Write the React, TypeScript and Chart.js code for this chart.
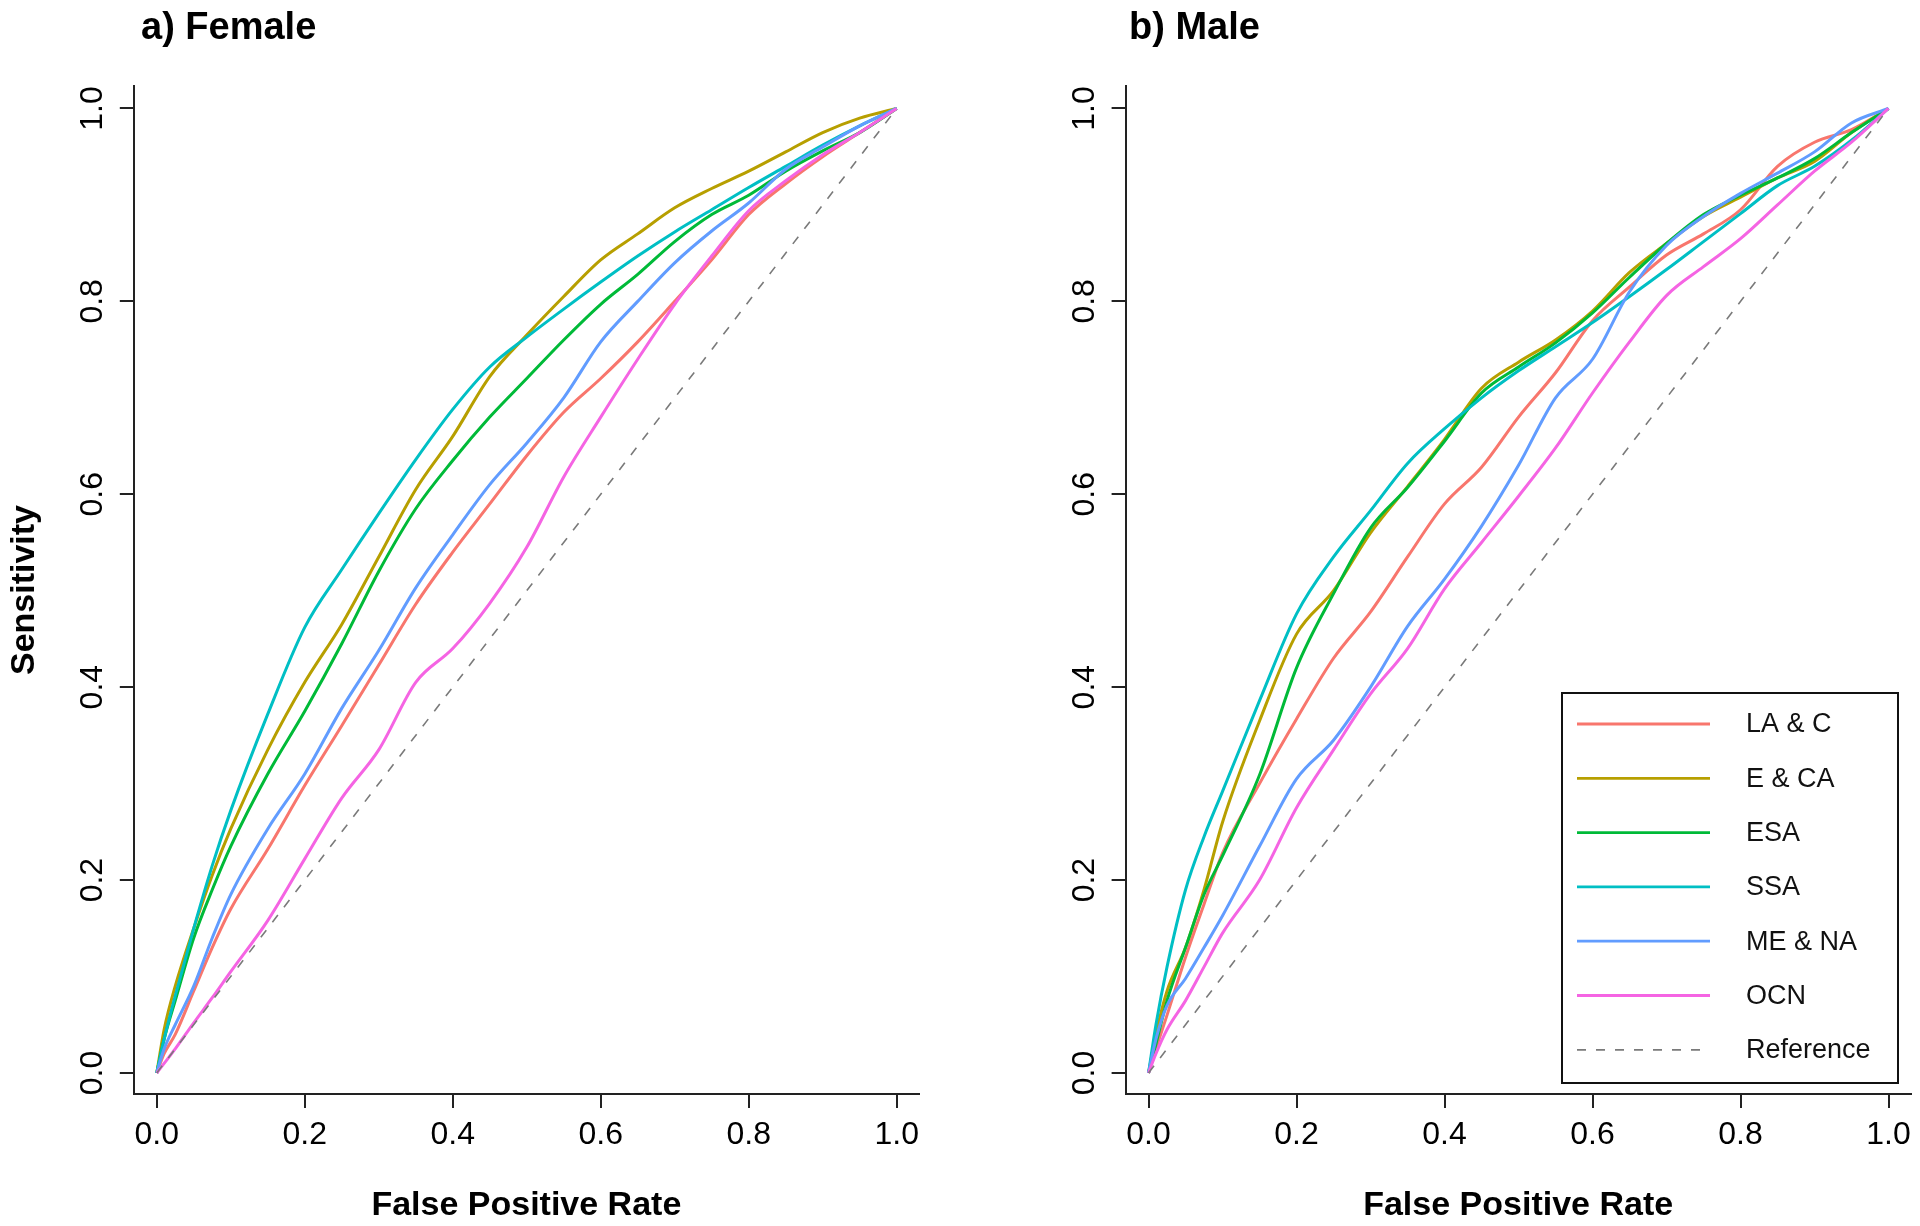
import React, { useEffect, useRef } from 'react';
import { Chart, registerables } from 'chart.js';

Chart.register(...registerables);

// ---------------- data ----------------
const FPR = [0, 0.01, 0.025, 0.05, 0.075, 0.1, 0.15, 0.2, 0.25, 0.3, 0.35, 0.4, 0.45, 0.5, 0.55, 0.6, 0.65, 0.7, 0.75, 0.8, 0.85, 0.9, 0.95, 1.0];

const SERIES_NAMES = ['LA & C', 'E & CA', 'ESA', 'SSA', 'ME & NA', 'OCN'];
const SERIES_COLORS = ['#F8766D', '#B79F00', '#00BA38', '#00BFC4', '#619CFF', '#F564E3'];
const REFERENCE_LABEL = 'Reference';
const REF_X = [0, 1];
const REF_Y = [0, 1];
const TICKS = [0, 0.2, 0.4, 0.6, 0.8, 1.0];

// a) Female
const F_LAC = [0, 0.02, 0.04, 0.085, 0.13, 0.17, 0.232, 0.298, 0.36, 0.423, 0.486, 0.54, 0.59, 0.64, 0.685, 0.72, 0.758, 0.8, 0.843, 0.89, 0.922, 0.95, 0.975, 1];
const F_ECA = [0, 0.045, 0.09, 0.15, 0.205, 0.253, 0.335, 0.405, 0.465, 0.535, 0.605, 0.66, 0.722, 0.765, 0.805, 0.843, 0.87, 0.897, 0.917, 0.935, 0.955, 0.975, 0.99, 1];
const F_ESA = [0, 0.035, 0.075, 0.14, 0.19, 0.235, 0.31, 0.375, 0.445, 0.52, 0.585, 0.635, 0.68, 0.72, 0.76, 0.797, 0.828, 0.862, 0.89, 0.91, 0.935, 0.956, 0.975, 1];
const F_SSA = [0, 0.035, 0.08, 0.15, 0.215, 0.272, 0.372, 0.462, 0.522, 0.58, 0.636, 0.688, 0.732, 0.763, 0.792, 0.82, 0.847, 0.872, 0.895, 0.918, 0.94, 0.962, 0.982, 1];
const F_MENA = [0, 0.025, 0.05, 0.09, 0.14, 0.185, 0.253, 0.31, 0.378, 0.438, 0.503, 0.558, 0.61, 0.653, 0.7, 0.758, 0.8, 0.84, 0.873, 0.902, 0.937, 0.96, 0.982, 1];
const F_OCN = [0, 0.01, 0.025, 0.052, 0.078, 0.105, 0.158, 0.222, 0.285, 0.335, 0.405, 0.44, 0.487, 0.545, 0.618, 0.68, 0.74, 0.797, 0.847, 0.894, 0.925, 0.952, 0.975, 1];

// b) Male
const M_LAC = [0, 0.025, 0.06, 0.12, 0.175, 0.228, 0.3, 0.367, 0.43, 0.478, 0.535, 0.59, 0.628, 0.68, 0.726, 0.78, 0.815, 0.848, 0.87, 0.895, 0.94, 0.965, 0.978, 1];
const M_ECA = [0, 0.04, 0.085, 0.13, 0.19, 0.26, 0.365, 0.455, 0.5, 0.56, 0.608, 0.657, 0.71, 0.737, 0.76, 0.79, 0.83, 0.86, 0.888, 0.908, 0.928, 0.945, 0.975, 1];
const M_ESA = [0, 0.03, 0.075, 0.13, 0.185, 0.225, 0.309, 0.42, 0.497, 0.565, 0.607, 0.655, 0.705, 0.732, 0.757, 0.788, 0.825, 0.86, 0.89, 0.91, 0.928, 0.948, 0.975, 1];
const M_SSA = [0, 0.05, 0.11, 0.19, 0.245, 0.292, 0.386, 0.476, 0.535, 0.583, 0.632, 0.668, 0.7, 0.728, 0.753, 0.778, 0.805, 0.833, 0.862, 0.891, 0.92, 0.94, 0.967, 1];
const M_MENA = [0, 0.035, 0.07, 0.098, 0.13, 0.163, 0.235, 0.305, 0.345, 0.4, 0.463, 0.512, 0.567, 0.63, 0.7, 0.74, 0.81, 0.858, 0.888, 0.912, 0.933, 0.955, 0.985, 1];
const M_OCN = [0, 0.02, 0.045, 0.075, 0.11, 0.145, 0.2, 0.275, 0.335, 0.393, 0.44, 0.502, 0.55, 0.598, 0.648, 0.705, 0.758, 0.806, 0.836, 0.865, 0.9, 0.935, 0.965, 1];

const X_TITLE = 'False Positive Rate';
const Y_TITLE = 'Sensitivity';

// ---------------- layout / style ----------------
const FONT = "'Liberation Sans', Arial, Helvetica, sans-serif";
const CANVAS_W = 960;
const CANVAS_H = 1226;
const PLOT_TOP = 86;
const X_AXIS_H = 132;
const X_MIN = -0.031;
const X_MAX = 1.03;
const Y_MIN = -0.0218;
const Y_MAX = 1.0233;
const AXIS_COLOR = '#222';

type PanelSpec = {
  title: string;
  values: number[][];
  canvasLeft: number;
  yAxisWidth: number;
  padRight: number;
  titleX: number;
  showYTitle: boolean;
  showLegend: boolean;
};

const PANELS: PanelSpec[] = [
  {
    title: 'a) Female',
    values: [F_LAC, F_ECA, F_ESA, F_SSA, F_MENA, F_OCN],
    canvasLeft: 0,
    yAxisWidth: 133.8,
    padRight: 41.1,
    titleX: 141,
    showYTitle: true,
    showLegend: false,
  },
  {
    title: 'b) Male',
    values: [M_LAC, M_ECA, M_ESA, M_SSA, M_MENA, M_OCN],
    canvasLeft: 960,
    yAxisWidth: 165.6,
    padRight: 9.3,
    titleX: 169,
    showYTitle: false,
    showLegend: true,
  },
];

const panelTitlePlugin = {
  id: 'panelTitle',
  afterDraw(chart: any, _args: any, opts: any) {
    if (!opts || !opts.text) return;
    const ctx = chart.ctx;
    ctx.save();
    ctx.font = `bold ${opts.size}px ${FONT}`;
    ctx.fillStyle = '#000';
    ctx.textAlign = 'left';
    ctx.textBaseline = 'alphabetic';
    ctx.fillText(opts.text, opts.x, opts.y);
    ctx.restore();
  },
};

const insetLegendPlugin = {
  id: 'insetLegend',
  afterDraw(chart: any, _args: any, opts: any) {
    if (!opts || !opts.display) return;
    const ctx = chart.ctx;
    ctx.save();
    ctx.fillStyle = '#fff';
    ctx.fillRect(opts.left, opts.top, opts.width, opts.height);
    ctx.strokeStyle = '#111';
    ctx.lineWidth = 2;
    ctx.strokeRect(opts.left, opts.top, opts.width, opts.height);
    ctx.font = `${opts.fontSize}px ${FONT}`;
    ctx.textAlign = 'left';
    ctx.textBaseline = 'middle';
    chart.data.datasets.forEach((ds: any, i: number) => {
      const y = opts.firstRow + i * opts.rowStep;
      ctx.beginPath();
      ctx.setLineDash(ds.borderDash || []);
      ctx.strokeStyle = ds.borderColor;
      ctx.lineWidth = ds.borderDash ? 1.8 : 2.8;
      ctx.moveTo(opts.lineX0, y);
      ctx.lineTo(opts.lineX1, y);
      ctx.stroke();
      ctx.setLineDash([]);
      ctx.fillStyle = '#111';
      ctx.fillText(ds.label, opts.textX, y + 1);
    });
    ctx.restore();
  },
};

function buildConfig(p: PanelSpec): any {
  const datasets: any[] = p.values.map((arr, i) => ({
    label: SERIES_NAMES[i],
    data: FPR.map((x, j) => ({ x, y: arr[j] })),
    borderColor: SERIES_COLORS[i],
    backgroundColor: SERIES_COLORS[i],
    borderWidth: 3,
    pointRadius: 0,
    fill: false,
    cubicInterpolationMode: 'monotone',
    order: SERIES_NAMES.length - i,
  }));
  datasets.push({
    label: REFERENCE_LABEL,
    data: REF_X.map((x, j) => ({ x, y: REF_Y[j] })),
    borderColor: '#7a7a7a',
    backgroundColor: '#7a7a7a',
    borderWidth: 1.6,
    borderDash: [9, 10],
    pointRadius: 0,
    fill: false,
    order: 0,
  });

  const gridOpts = {
    drawOnChartArea: false,
    drawTicks: true,
    tickLength: 14,
    color: AXIS_COLOR,
    lineWidth: 2,
  };
  const borderOpts = { display: true, color: AXIS_COLOR, width: 2 };
  const tickFont = { family: FONT, size: 32 };
  const titleFont = { family: FONT, size: 34, weight: 'bold' as const };

  return {
    type: 'line',
    data: { datasets },
    plugins: [panelTitlePlugin, insetLegendPlugin],
    options: {
      responsive: false,
      animation: false,
      devicePixelRatio: 1,
      events: [],
      layout: { padding: { top: PLOT_TOP, right: p.padRight, bottom: 0, left: 0 } },
      plugins: {
        legend: { display: false },
        tooltip: { enabled: false },
        title: { display: false },
        panelTitle: { text: p.title, x: p.titleX, y: 39, size: 38 },
        insetLegend: {
          display: p.showLegend,
          left: 602,
          top: 693,
          width: 336,
          height: 390,
          lineX0: 617,
          lineX1: 750,
          textX: 786,
          firstRow: 724,
          rowStep: 54.3,
          fontSize: 27,
        },
      },
      scales: {
        x: {
          type: 'linear',
          min: X_MIN,
          max: X_MAX,
          afterBuildTicks: (s: any) => {
            s.ticks = TICKS.map((v) => ({ value: v }));
          },
          afterFit: (s: any) => {
            s.height = X_AXIS_H;
          },
          grid: gridOpts,
          border: borderOpts,
          ticks: {
            color: '#000',
            font: tickFont,
            padding: 8,
            autoSkip: false,
            minRotation: 0,
            maxRotation: 0,
            callback: (v: any) => Number(v).toFixed(1),
          },
          title: {
            display: true,
            text: X_TITLE,
            color: '#000',
            font: titleFont,
            padding: { top: 0, bottom: 0 },
          },
        },
        y: {
          type: 'linear',
          min: Y_MIN,
          max: Y_MAX,
          afterBuildTicks: (s: any) => {
            s.ticks = TICKS.map((v) => ({ value: v }));
          },
          afterFit: (s: any) => {
            s.width = p.yAxisWidth;
          },
          grid: gridOpts,
          border: borderOpts,
          ticks: {
            color: '#000',
            font: tickFont,
            padding: 4,
            autoSkip: false,
            minRotation: 90,
            maxRotation: 90,
            crossAlign: 'center',
            callback: (v: any) => Number(v).toFixed(1),
          },
          title: {
            display: p.showYTitle,
            text: Y_TITLE,
            color: '#000',
            font: titleFont,
            padding: { top: 4.6, bottom: 0 },
          },
        },
      },
    },
  };
}

function RocPanel({ panel }: { panel: PanelSpec }) {
  const ref = useRef<HTMLCanvasElement | null>(null);
  useEffect(() => {
    if (!ref.current) return;
    const chart = new Chart(ref.current, buildConfig(panel));
    return () => chart.destroy();
  }, [panel]);
  return (
    <canvas
      ref={ref}
      width={CANVAS_W}
      height={CANVAS_H}
      style={{ position: 'absolute', left: panel.canvasLeft, top: 0, width: CANVAS_W, height: CANVAS_H }}
    />
  );
}

export default function App() {
  return (
    <div
      style={{
        position: 'absolute',
        left: 0,
        top: 0,
        width: 1920,
        height: 1226,
        background: '#fff',
        overflow: 'hidden',
      }}
    >
      {PANELS.map((p) => (
        <RocPanel key={p.title} panel={p} />
      ))}
    </div>
  );
}
